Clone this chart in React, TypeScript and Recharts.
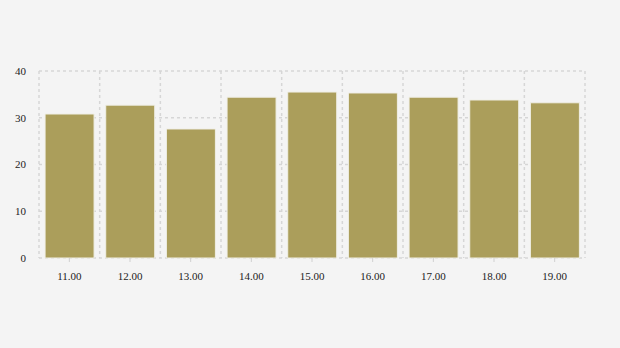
import React from "react";
import { BarChart, Bar, XAxis, YAxis, CartesianGrid } from "recharts";

const categories = ["11.00", "12.00", "13.00", "14.00", "15.00", "16.00", "17.00", "18.00", "19.00"];
const values = [30.8, 32.7, 27.6, 34.4, 35.5, 35.3, 34.4, 33.8, 33.2];
const yTicks = [0, 10, 20, 30, 40];

const data = categories.map((c, i) => ({ name: c, value: values[i] }));

const verticalGen = ({ offset }: any) => {
  const n = categories.length;
  const pts: number[] = [];
  for (let i = 0; i <= n; i++) pts.push(offset.left + (i * offset.width) / n);
  return pts;
};

export default function App() {
  return (
    <div style={{ position: "absolute", left: 0, top: 0, width: 620, height: 348, background: "#f4f4f4" }}>
      <BarChart
        width={620}
        height={348}
        data={data}
        margin={{ top: 71, right: 35, bottom: 60, left: 0 }}
        barCategoryGap="10%"
      >
        <CartesianGrid
          stroke="#d6d6d6"
          strokeDasharray="3 3"
          strokeWidth={1.5}
          verticalCoordinatesGenerator={verticalGen}
        />
        <XAxis
          dataKey="name"
          axisLine={false}
          tickLine={{ stroke: "#d0d0d0" }}
          tickSize={4}
          tickMargin={10}
          height={30}
          tick={{ fontFamily: "Liberation Serif", fontSize: 11, fill: "#222" }}
        />
        <YAxis
          domain={[0, 40]}
          ticks={yTicks}
          width={39}
          axisLine={false}
          tickLine={false}
          tickSize={6}
          tickMargin={7}
          tick={{ fontFamily: "Liberation Serif", fontSize: 11, fill: "#222" }}
        />
        <Bar dataKey="value" fill="#ab9e5b" stroke="#f0efe6" strokeWidth={1} isAnimationActive={false} />
      </BarChart>
    </div>
  );
}
